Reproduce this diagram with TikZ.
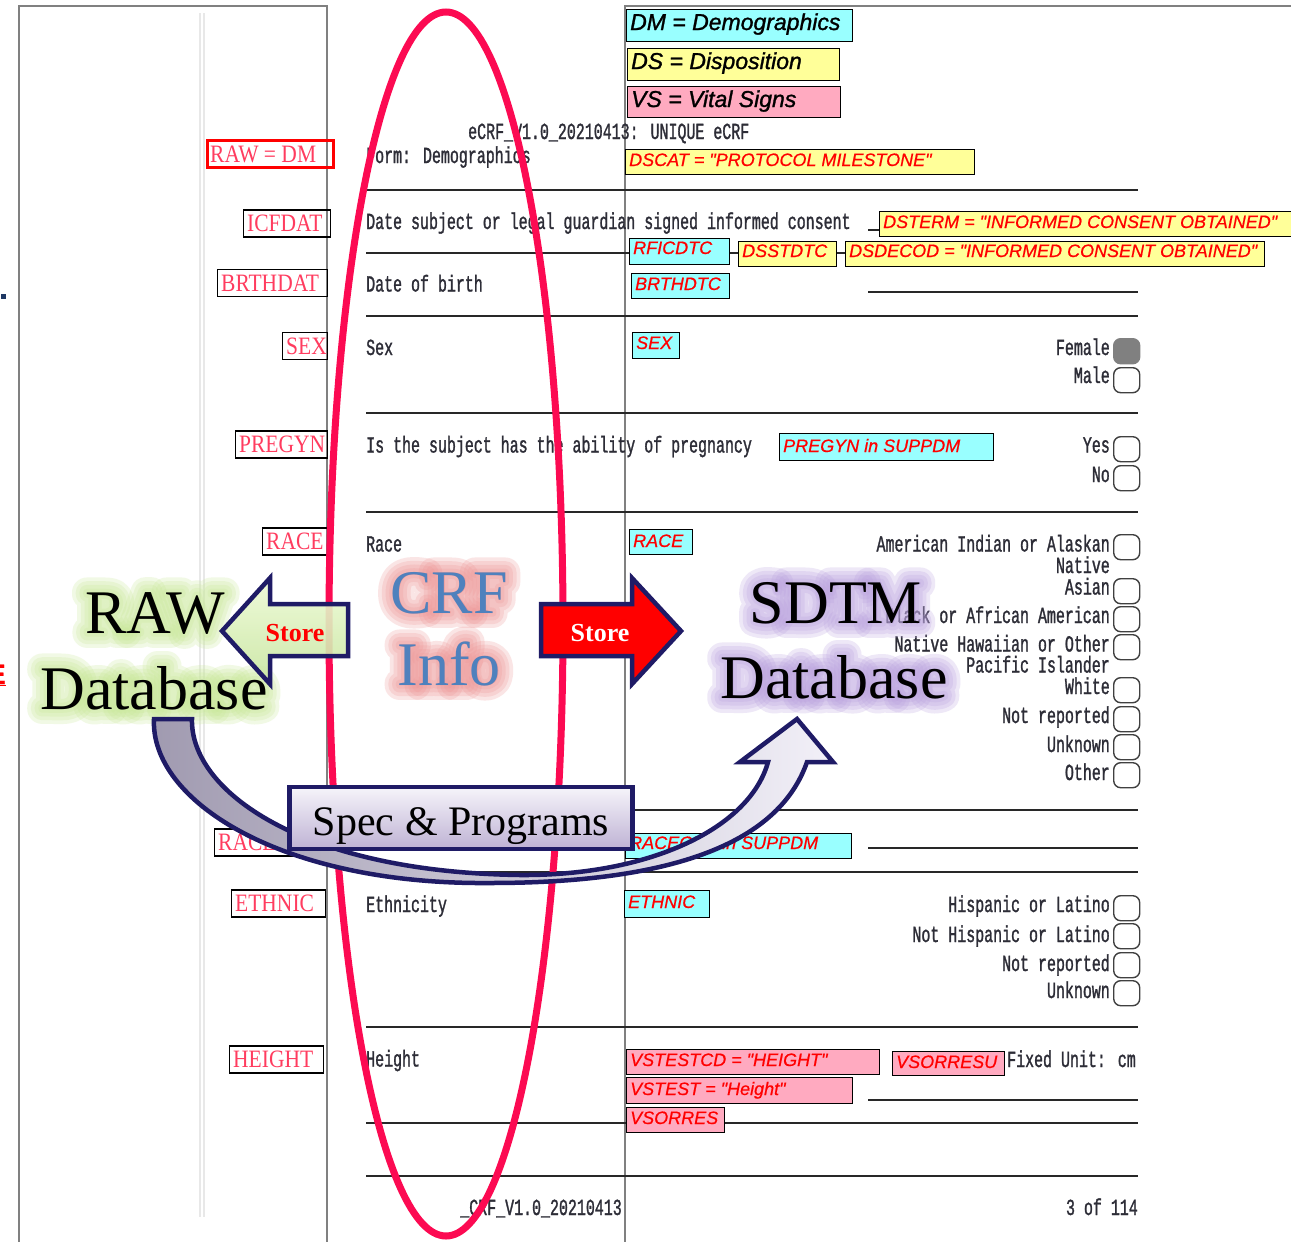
\documentclass[tikz,border=0pt]{standalone}
\usepackage{fontspec}
\setmainfont{Liberation Serif}
\newfontfamily\formfont[FakeStretch=0.65,FakeBold=1.2]{Liberation Mono}
\newfontfamily\lblfont[FakeStretch=0.86]{Liberation Serif}
\newfontfamily\annfont[FakeBold=0.6]{Liberation Sans}
\newfontfamily\legfont[FakeBold=1.2]{Liberation Sans}
% stroked faces used for the soft halos round the captions
\newfontfamily\haloA[FakeBold=12]{Liberation Serif}
\newfontfamily\haloB[FakeBold=24]{Liberation Serif}
\newfontfamily\haloC[FakeBold=36]{Liberation Serif}
\newfontfamily\haloD[FakeBold=48]{Liberation Serif}
\usetikzlibrary{calc}

\definecolor{pagegray}{RGB}{128,128,128}
\definecolor{faintgray}{RGB}{232,232,232}
\definecolor{rulecol}{RGB}{40,40,40}
\definecolor{formink}{RGB}{45,45,55}
\definecolor{lblred}{RGB}{255,60,95}
\definecolor{cyanbox}{RGB}{153,255,255}
\definecolor{yellowbox}{RGB}{255,255,153}
\definecolor{pinkbox}{RGB}{255,170,192}
\definecolor{ringred}{RGB}{252,10,82}
\definecolor{navy}{RGB}{31,27,102}
\definecolor{crfblue}{RGB}{79,129,189}
\definecolor{glowpink}{RGB}{238,150,150}
\definecolor{glowgreen}{RGB}{200,232,150}
\definecolor{glowpurple}{RGB}{185,160,222}
\definecolor{greenhi}{RGB}{238,250,214}
\definecolor{greenlo}{RGB}{200,230,160}
\definecolor{specTop}{RGB}{246,244,250}
\definecolor{specBot}{RGB}{190,178,212}
\definecolor{curveL}{RGB}{160,154,176}
\definecolor{curveR}{RGB}{242,240,248}
\definecolor{chkgray}{RGB}{128,128,128}
\definecolor{dotblue}{RGB}{31,56,100}

% field label on the left margin: box + red name
\newcommand\crffield[6][]{%
  \node[lblbox, #1, minimum width={#4-#3}, anchor=west] (#2) at (#3,#5) {};
  \node[lbltxt, anchor=base west] (#2-t) at ($(#2.west)+(4,8)$) {#6};
}
% annotation box: name, left, top, right, bottom, fill, baseline offset, text
\newcommand\crfann[9][redtxt]{%
  \node[annbox, fill=#7, minimum width={#5-#3}, minimum height={#6-#4}, anchor=north west] (#2) at (#3,#4) {};
  \node[#1, anchor=base west] (#2-t) at ($(#2.north west)+(4,#8)$) {#9};
}
% answer text and its check box
\newcommand\crfopt[3]{\node[formtxt, anchor=base east] (#1) at (1110,#2) {#3};}
\newcommand\crfchk[3][]{\node[chk,#1] (#2) at (1113,#3) {};}
% soft halo: the caption stroked ever wider, each pass translucent
\newcommand\halotext[5]{%
  \foreach \hf/\hn in {\haloD/d,\haloC/c,\haloB/b,\haloA/a}{%
    \node[font=\hf\fontsize{62}{62}\selectfont, inner sep=0pt, anchor=base,
          text=#4, opacity=0.24, line join=round] (#1-\hn) at (#2,#3) {#5};
  }%
}

\begin{document}
\begin{tikzpicture}[x=1pt,y=-1pt,
  pageline/.style={draw=pagegray, line width=1.6pt},
  faintline/.style={draw=faintgray, line width=2pt},
  rule/.style={draw=rulecol, line width=1.4pt},
  formtxt/.style={font=\formfont\fontsize{23}{23}\selectfont, text=formink, inner sep=0pt},
  lblbox/.style={draw=black, line width=1.4pt, minimum height=27pt, inner sep=0pt},
  lbltxt/.style={font=\lblfont\fontsize{25}{25}\selectfont, text=lblred, inner sep=0pt},
  annbox/.style={draw=black, line width=1.3pt, inner sep=0pt},
  legendtxt/.style={font=\legfont\itshape\fontsize{23}{23}\selectfont, text=black, inner sep=0pt},
  redtxt/.style={font=\annfont\itshape\fontsize{18}{18}\selectfont, text=red, inner sep=0pt},
  chk/.style={draw=black!75, line width=1.4pt, rounded corners=7pt, minimum width=26pt, minimum height=25pt, inner sep=0pt, anchor=north west},
  bigtxt/.style={font=\fontsize{62}{62}\selectfont, inner sep=0pt, anchor=base},
  storetxt/.style={font=\bfseries\fontsize{26}{26}\selectfont, inner sep=0pt, anchor=base},
  blockarrow/.style={draw=navy, line width=4.5pt, line join=miter},
]
\useasboundingbox[fill=white] (0,0) rectangle (1291,1242);

% ---------- page frame ----------
\draw[faintline] (200,13) -- (200,1217);
\draw[faintline] (204,13) -- (204,1217);
\draw[pageline] (19,1242) -- (19,6) -- (327,6) -- (327,1242);
\draw[pageline] (625,1242) -- (625,6) -- (1291,6);

% clipped marks at the left edge
\fill[dotblue] (1,294) rectangle (6,299);
\node[font=\annfont\bfseries\fontsize{28}{28}\selectfont, text=red, inner sep=0pt, anchor=base east] (edge-e) at (6,684) {\underline{E}};

% ---------- form rules ----------
\draw[rule] (366,190) -- (1138,190);
\draw[rule] (366,253) -- (629,253);
\draw[rule] (729,253) -- (738,253);
\draw[rule] (836,253) -- (845,253);
\draw[rule] (868,230) -- (879,230);
\draw[rule] (868,292) -- (1138,292);
\draw[rule] (366,316) -- (1138,316);
\draw[rule] (366,413) -- (1138,413);
\draw[rule] (366,512) -- (1138,512);
\draw[rule] (366,810) -- (1138,810);
\draw[rule] (868,848) -- (1138,848);
\draw[rule] (366,872) -- (1138,872);
\draw[rule] (366,1027) -- (1138,1027);
\draw[rule] (868,1100) -- (1138,1100);
\draw[rule] (366,1123) -- (1138,1123);
\draw[rule] (366,1176) -- (1138,1176);

% ---------- field names ----------
\crffield[draw=red, line width=2.6pt]{rawdm}{206}{332}{154}{RAW = DM}
\crffield{icfdat}{243}{330}{223.5}{ICFDAT}
\crffield{brthdat}{217}{327}{283}{BRTHDAT}
\crffield{sex}{282}{327}{346}{SEX}
\crffield{pregyn}{235}{327}{444.5}{PREGYN}
\crffield{race}{262}{327}{541.5}{RACE}
\crffield{raceoth}{214}{327}{842.5}{RACEOTH}
\crffield{ethnic}{231}{325}{903.5}{ETHNIC}
\crffield{height}{229}{323}{1059.5}{HEIGHT}

% ---------- question texts ----------
\node[formtxt, anchor=base west] (hdr) at (468,139) {eCRF\_V1.0\_20210413: UNIQUE eCRF};
\node[formtxt, anchor=base west] (form) at (366,163) {Form: Demographics};
\node[formtxt, anchor=base west] (q-icf) at (366,229) {Date subject or legal guardian signed informed consent};
\node[formtxt, anchor=base west] (q-brth) at (366,291.5) {Date of birth};
\node[formtxt, anchor=base west] (q-sex) at (366,355) {Sex};
\node[formtxt, anchor=base west] (q-preg) at (366,452.5) {Is the subject has the ability of pregnancy};
\node[formtxt, anchor=base west] (q-race) at (366,551.5) {Race};
\node[formtxt, anchor=base west] (q-eth) at (366,912) {Ethnicity};
\node[formtxt, anchor=base west] (q-ht) at (366,1066.5) {Height};
\node[formtxt, anchor=base west] (unit) at (1007,1067) {Fixed Unit: cm};
\node[formtxt, anchor=base east] (foot-l) at (622,1215) {\_CRF\_V1.0\_20210413};
\node[formtxt, anchor=base east] (foot-r) at (1138,1215) {3 of 114};

% ---------- answers ----------
\crfopt{o-fem}{355}{Female}        \crfchk[fill=chkgray, draw=chkgray]{c-fem}{338}
\crfopt{o-male}{383}{Male}         \crfchk{c-male}{367}
\crfopt{o-yes}{452.5}{Yes}         \crfchk{c-yes}{436}
\crfopt{o-no}{482}{No}             \crfchk{c-no}{465}
\crfopt{o-ai}{551.5}{American Indian or Alaskan}  \crfchk{c-ai}{534}
\crfopt{o-ai2}{573}{Native}
\crfopt{o-as}{594.5}{Asian}        \crfchk{c-as}{578}
\crfopt{o-bl}{623}{Black or African American}     \crfchk{c-bl}{606}
\crfopt{o-nh}{651.5}{Native Hawaiian or Other}    \crfchk{c-nh}{634}
\crfopt{o-nh2}{672.5}{Pacific Islander}
\crfopt{o-wh}{694}{White}          \crfchk{c-wh}{677}
\crfopt{o-nr}{723}{Not reported}   \crfchk{c-nr}{706}
\crfopt{o-un}{752}{Unknown}        \crfchk{c-un}{734}
\crfopt{o-ot}{780}{Other}          \crfchk{c-ot}{762}
\crfopt{o-hl}{912}{Hispanic or Latino}       \crfchk{c-hl}{895}
\crfopt{o-nhl}{942}{Not Hispanic or Latino}  \crfchk{c-nhl}{923}
\crfopt{o-enr}{971}{Not reported}  \crfchk{c-enr}{952}
\crfopt{o-eun}{998}{Unknown}       \crfchk{c-eun}{980}

% ---------- SDTM annotations ----------
\crfann[legendtxt]{dm}{626}{9}{852}{41}{cyanbox}{21}{DM = Demographics}
\crfann[legendtxt]{ds}{627}{48}{839}{80}{yellowbox}{21}{DS = Disposition}
\crfann[legendtxt]{vs}{627}{86}{840}{117}{pinkbox}{21}{VS = Vital Signs}
\crfann{dscat}{625}{149}{974}{174}{yellowbox}{17}{DSCAT = "PROTOCOL MILESTONE"}
\crfann{dsterm}{879}{211}{1298}{236}{yellowbox}{17}{DSTERM = "INFORMED CONSENT OBTAINED"}
\crfann{rficdtc}{629}{238}{729}{264}{cyanbox}{16}{RFICDTC}
\crfann{dsstdtc}{738}{241}{836}{266}{yellowbox}{16}{DSSTDTC}
\crfann{dsdecod}{845}{241}{1264}{266}{yellowbox}{16}{DSDECOD = "INFORMED CONSENT OBTAINED"}
\crfann{brthdtc}{631}{273}{729}{298}{cyanbox}{17}{BRTHDTC}
\crfann{sexv}{632}{332}{679}{358}{cyanbox}{17}{SEX}
\crfann{pregv}{779}{433}{993}{460}{cyanbox}{19}{PREGYN in SUPPDM}
\crfann{racev}{629}{529}{692}{554}{cyanbox}{18}{RACE}
\crfann{raceothv}{625}{833}{851}{858}{cyanbox}{16}{RACEOTH in SUPPDM}
\crfann{ethnicv}{624}{890}{709}{917}{cyanbox}{18}{ETHNIC}
\crfann{vstestcd}{626}{1049}{879}{1074}{pinkbox}{17}{VSTESTCD = "HEIGHT"}
\crfann{vsorresu}{892}{1051}{1004}{1075}{pinkbox}{17}{VSORRESU}
\crfann{vstest}{626}{1077}{852}{1103}{pinkbox}{18}{VSTEST = "Height"}
\crfann{vsorres}{626}{1107}{724}{1132}{pinkbox}{17}{VSORRES}

% ---------- red ring around the CRF column ----------
\draw[ringred, line width=7pt] (446,624) ellipse [x radius=117, y radius=612];

% ---------- halos behind the captions ----------
\halotext{crf-h}{449}{613}{glowpink}{CRF}
\halotext{info-h}{449}{685}{glowpink}{Info}
\halotext{raw-h}{155}{633}{glowgreen}{RAW}
\halotext{rawdb-h}{154}{709}{glowgreen}{Database}
\halotext{sdtm-h}{836}{623}{glowpurple}{SDTM}
\halotext{sdtmdb-h}{834}{698}{glowpurple}{Database}

% ---------- store arrows ----------
\draw[blockarrow, top color=greenhi, bottom color=greenlo, fill opacity=0.9]
  (348,604) -- (270,604) -- (270,578) -- (222,631) -- (270,684) -- (270,656) -- (348,656) -- cycle;
\node[storetxt, text=red] (store-l) at (295,641) {Store};
\draw[blockarrow, fill=red]
  (541,604) -- (632,604) -- (632,578) -- (681,631) -- (632,684) -- (632,656) -- (541,656) -- cycle;
\node[storetxt, text=white] (store-r) at (600,641) {Store};

% ---------- big captions ----------
\node[bigtxt, text=crfblue] (crf) at (449,613) {CRF};
\node[bigtxt, text=crfblue] (info) at (449,685) {Info};
\node[bigtxt] (raw) at (155,633) {RAW};
\node[bigtxt] (rawdb) at (154,709) {Database};
\node[bigtxt] (sdtm) at (836,623) {SDTM};
\node[bigtxt] (sdtmdb) at (834,698) {Database};

% ---------- curved arrow from RAW to SDTM ----------
\draw[draw=navy, line width=4.5pt, line join=miter, left color=curveL, right color=curveR]
  (154,719) .. controls (150,800) and (280,885) .. (490,883)
  .. controls (710,883) and (785,825) .. (807,762)
  -- (833,762) -- (797,719) -- (740,762) -- (768,762)
  .. controls (750,828) and (650,876) .. (520,875)
  .. controls (300,872) and (190,790) .. (192,719) -- cycle;

% ---------- spec box ----------
\node[draw=navy, line width=4.5pt, top color=specTop, bottom color=specBot,
      minimum width=343pt, minimum height=62pt, inner sep=0pt] (spec) at (461,818) {};
\node[font=\fontsize{42}{42}\selectfont, inner sep=0pt, anchor=base] (spec-t) at (461,835) {Spec \& Programs};

\end{tikzpicture}
\end{document}
